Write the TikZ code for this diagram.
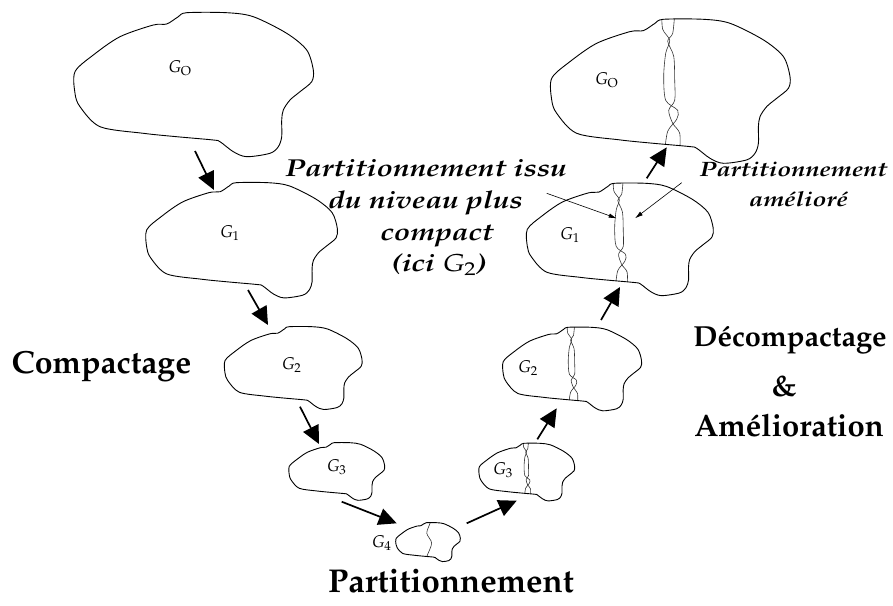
\documentclass[tikz,border=0pt]{standalone}
\usepackage[T1]{fontenc}
\usepackage{mathpazo}
\usepackage{graphicx}
\usetikzlibrary{arrows.meta}

% wide setting for the hand-written remarks
\newcommand{\widetext}[1]{\scalebox{1.22}[1]{#1}}

\tikzset{
  % outline of a graph, in the frame of the largest one (238 x 144)
  blob path/.style={insert path={plot[smooth cycle, tension=0.5] coordinates {
    (0,59) (18.3,42.3) (45,24) (78.3,12.3) (91.7,11.3) (103.3,4) (111.7,0)
    (151.7,0) (178.3,4) (211.7,20.6) (231.7,37.3) (238.3,57.3) (236.7,69)
    (225,79) (215,87.3) (208.3,97.3) (206.7,107.3) (206.7,124) (203.3,134)
    (195,140.6) (171.7,144) (158.3,139) (145,129) (138.3,127.3) (101.7,124)
    (68.3,120.6) (25,114) (5,94) (0,80.6)}}},
  outline/.style={draw=black, line width=0.9pt, line join=round},
  cut/.style={draw=black!80, line width=0.6pt},
  blob/.pic={\path[outline, blob path];},
  % graph cut in two: the inherited and the improved separator
  split blob/.pic={
    \begin{scope}
      \clip[blob path];
      \draw[cut] plot[smooth, tension=0.5] coordinates {(110,-6) (111,10) (118,21) (114,34)
        (112,57) (114,81) (126,91) (125,100) (116,112) (113,132)};
      \draw[cut] plot[smooth, tension=0.5] coordinates {(123,-6) (121,14) (116,22) (122,37)
        (123,61) (123,81) (117,91) (121,104) (128,114) (128,132)};
    \end{scope}
    \path[outline, blob path];
  },
  % coarsest graph with its initial partition
  cut blob/.pic={
    \begin{scope}
      \clip[blob path];
      \draw[cut] plot[smooth, tension=0.5] coordinates {(124,-6) (126,2) (114,39) (132,76)
        (114,126) (113,150)};
    \end{scope}
    \path[outline, blob path];
  },
  glabel/.style={font=\fontsize{17}{19}\selectfont, inner sep=0pt},
  flow/.style={draw=black, line width=1.7pt, -{Triangle[length=18pt, width=17pt]}},
  pointer/.style={draw=black, line width=0.6pt, -{Latex[length=8pt, width=4.5pt]}},
  title/.style={font=\bfseries\fontsize{32}{36}\selectfont, inner sep=0pt, anchor=base},
  note/.style={font=\bfseries\itshape\fontsize{24.5}{28}\selectfont, inner sep=0pt, anchor=base},
  smallnote/.style={font=\bfseries\itshape\fontsize{20.8}{25}\selectfont, inner sep=0pt, anchor=base},
}

\begin{document}
\begin{tikzpicture}[x=1pt, y=-1pt]
  \useasboundingbox (0,0) rectangle (893,605);

  % coarsening branch
  \pic[scale=1.00] at (75,12.7)    {blob};
  \pic[scale=0.80] at (146.7,182.7) {blob};
  \pic[scale=0.575] at (225,326.7) {blob};
  \pic[scale=0.40] at (289.3,442.7) {blob};
  \pic[scale=0.27] at (396,522.7)  {cut blob};

  % uncoarsening branch
  \pic[scale=1.00] at (551.7,19.3)  {split blob};
  \pic[scale=0.78] at (527.3,183.3) {split blob};
  \pic[scale=0.58] at (503.3,327.3) {split blob};
  \pic[scale=0.40] at (479.3,443.3) {split blob};

  % graph names
  \node[glabel] (g0)  at (180,68)    {$G_{\mathrm{O}}$};
  \node[glabel] (g1)  at (230,233)   {$G_1$};
  \node[glabel] (g2)  at (291.7,365) {$G_2$};
  \node[glabel] (g3)  at (336.7,467) {$G_3$};
  \node[glabel] (g4)  at (381.7,543) {$G_4$};
  \node[glabel] (h0)  at (606.7,80)  {$G_{\mathrm{O}}$};
  \node[glabel] (h1)  at (570,235)   {$G_1$};
  \node[glabel] (h2)  at (528,368)   {$G_2$};
  \node[glabel] (h3)  at (503,470)   {$G_3$};

  % level-to-level arrows
  \coordinate (c01a) at (195,151);   \coordinate (c01b) at (214,190);
  \coordinate (c12a) at (248,290);   \coordinate (c12b) at (268,325);
  \coordinate (c23a) at (300,406.7); \coordinate (c23b) at (319,444);
  \coordinate (c34a) at (341.7,501.7); \coordinate (c34b) at (396.7,523.3);
  \coordinate (u43a) at (466.7,523.3); \coordinate (u43b) at (516.7,500.7);
  \coordinate (u32a) at (537.3,439.3); \coordinate (u32b) at (556.7,408.3);
  \coordinate (u21a) at (601,320);   \coordinate (u21b) at (620,287);
  \coordinate (u10a) at (646.7,178.3); \coordinate (u10b) at (666.7,147.3);
  \foreach \s/\e in {c01a/c01b, c12a/c12b, c23a/c23b, c34a/c34b,
                     u43a/u43b, u32a/u32b, u21a/u21b, u10a/u10b}
    \draw[flow] (\s) -- (\e);

  % separators pointed out on G1
  \coordinate (p1a) at (546.7,193.3); \coordinate (p1b) at (616.7,218.3);
  \coordinate (p2a) at (681.7,182.7); \coordinate (p2b) at (635,218.3);
  \draw[pointer] (p1a) -- (p1b);
  \draw[pointer] (p2a) -- (p2b);

  % annotations
  \node[note] (n1) at (426,176) {\widetext{Partitionnement issu}};
  \node[note] (n2) at (425.5,208) {\widetext{du niveau plus}};
  \node[note] (n3) at (437,240) {\widetext{compact}};
  \node[note] (n4) at (439,271.5) {\widetext{(ici $G_2$)}};
  \node[smallnote] (m1) at (793.5,176.7) {\widetext{Partitionnement}};
  \node[smallnote] (m2) at (798.5,206.7) {\widetext{am\'elior\'e}};

  % phase titles
  \node[title] (t1) at (101.5,373)   {Compactage};
  \node[title, font=\bfseries\fontsize{33}{36}\selectfont] (t2) at (451,592) {Partitionnement};
  \node[title, font=\bfseries\fontsize{29}{34}\selectfont] (t3) at (790,346.7) {D\'ecompactage};
  \node[title, font=\bfseries\fontsize{30}{34}\selectfont] (t4) at (784,396.7) {\&};
  \node[title, font=\bfseries\fontsize{31}{34}\selectfont] (t5) at (789,436.7) {Am\'elioration};
\end{tikzpicture}
\end{document}
